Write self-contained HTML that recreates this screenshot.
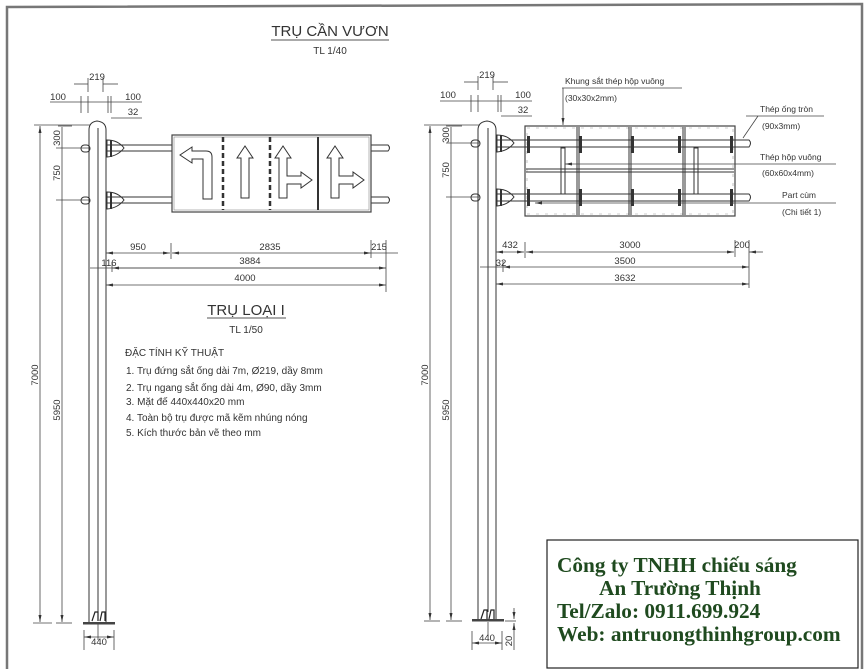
<!DOCTYPE html>
<html><head><meta charset="utf-8"><style>
html,body{margin:0;padding:0;background:#fff}
svg{display:block}
text{font-family:"Liberation Sans",sans-serif;fill:#333}
.d{stroke:#444;stroke-width:0.8;fill:none}
.p{stroke:#333;stroke-width:1;fill:none}
.cmp{font-family:"Liberation Serif",serif;font-weight:bold;fill:#1f4a1f;font-size:21.3px}
</style></head><body>
<svg width="866" height="669" viewBox="0 0 866 669" xmlns="http://www.w3.org/2000/svg">
<defs>
<marker id="a" markerWidth="8" markerHeight="6" refX="7" refY="3" orient="auto-start-reverse" markerUnits="userSpaceOnUse"><path d="M0,1.5 L7,3 L0,4.5z" fill="#333"/></marker>
</defs>
<rect width="866" height="669" fill="#fff"/>
<path d="M7,669 L7,7 L862,4 L862,669" stroke="#777" stroke-width="2.5" fill="none"/>

<text x="330" y="36" font-size="15" text-anchor="middle">TRỤ CẦN VƯƠN</text>
<line x1="271" y1="40" x2="389" y2="40" stroke="#555" stroke-width="1"/>
<text x="330" y="54" font-size="10" text-anchor="middle">TL 1/40</text>

<g>
<path class="p" d="M89,612 L89,130 Q89,122 97,121 Q106,122 106,130 L106,612"/>
<line class="p" x1="98" y1="128" x2="98" y2="612" stroke-width="0.7"/>
<line class="d" x1="88" y1="84" x2="74" y2="84"/><line class="d" x1="103" y1="84" x2="118" y2="84"/>
<line class="d" x1="88" y1="78" x2="88" y2="92"/><line class="d" x1="103" y1="78" x2="103" y2="92"/>
<text x="97" y="80" font-size="9.5" text-anchor="middle">219</text>
<line class="d" x1="50" y1="102" x2="142" y2="102"/>
<line class="d" x1="81" y1="96" x2="81" y2="113"/><line class="d" x1="88" y1="96" x2="88" y2="113"/>
<line class="d" x1="108" y1="96" x2="108" y2="113"/><line class="d" x1="111" y1="96" x2="111" y2="113"/>
<text x="58" y="100" font-size="9.5" text-anchor="middle">100</text>
<text x="133" y="100" font-size="9.5" text-anchor="middle">100</text>
<line class="d" x1="111" y1="118" x2="142" y2="118"/>
<text x="133" y="115" font-size="9.5" text-anchor="middle">32</text>
<rect x="81" y="145" width="9" height="7" rx="3.5" class="p"/>
<rect x="81" y="197" width="9" height="7" rx="3.5" class="p"/>
<path class="p" d="M107,140 Q118,140 124,148 Q118,156 107,157z"/>
<path class="p" d="M107,192 Q118,192 124,200 Q118,208 107,209z"/>
<line x1="111" y1="140" x2="111" y2="157" stroke="#333" stroke-width="2"/>
<line x1="111" y1="192" x2="111" y2="209" stroke="#333" stroke-width="2"/>
<path class="p" d="M106,145 L388,145 Q391,148 388,151 L106,151"/>
<path class="p" d="M106,197 L388,197 Q391,200 388,203 L106,203"/>
<rect x="172" y="135" width="199" height="77" fill="#fff" stroke="#444" stroke-width="1.2"/>
<rect x="174" y="137" width="195" height="73" fill="none" stroke="#888" stroke-width="0.6"/>
<line x1="223" y1="137" x2="223" y2="210" stroke="#333" stroke-width="2.5" stroke-dasharray="5,3"/>
<line x1="270" y1="137" x2="270" y2="210" stroke="#333" stroke-width="2.5" stroke-dasharray="5,3"/>
<line x1="318" y1="137" x2="318" y2="210" stroke="#333" stroke-width="2"/>
<path class="p" d="M212,199 L212,157 Q212,151 206,151 L192,151 L192,147 L180,155 L192,163 L192,159 L203,159 L203,199z" stroke-width="0.9"/>
<path class="p" d="M241,198 L241,158 L237,158 L245,146 L253,158 L249,158 L249,198z" stroke-width="0.9"/>
<path class="p" d="M279,198 L279,158 L275,158 L283,146 L291,158 L287,158 L287,176 L301,176 L301,172 L312,180 L301,188 L301,184 L287,184 L287,198z" stroke-width="0.9"/>
<path class="p" d="M331,198 L331,158 L327,158 L335,146 L343,158 L339,158 L339,176 L353,176 L353,172 L364,180 L353,188 L353,184 L339,184 L339,198z" stroke-width="0.9"/>
<line class="d" x1="106" y1="253" x2="170" y2="253" marker-start="url(#a)" marker-end="url(#a)"/>
<line class="d" x1="172" y1="253" x2="371" y2="253" marker-start="url(#a)" marker-end="url(#a)"/>
<line class="d" x1="371" y1="253" x2="398" y2="253"/>
<line class="d" x1="171" y1="243" x2="171" y2="259"/>
<line class="d" x1="371" y1="240" x2="371" y2="258"/>
<line class="d" x1="386" y1="240" x2="386" y2="292"/>
<text x="138" y="250" font-size="9.5" text-anchor="middle">950</text>
<text x="270" y="250" font-size="9.5" text-anchor="middle">2835</text>
<text x="379" y="250" font-size="9.5" text-anchor="middle">215</text>
<line class="d" x1="90" y1="268" x2="386" y2="268" marker-end="url(#a)"/>
<line class="d" x1="112" y1="268" x2="386" y2="268" marker-start="url(#a)"/>
<line class="d" x1="112" y1="262" x2="112" y2="272"/>
<text x="109" y="266" font-size="9.5" text-anchor="middle">116</text>
<text x="250" y="264" font-size="9.5" text-anchor="middle">3884</text>
<line class="d" x1="106" y1="285" x2="386" y2="285" marker-start="url(#a)" marker-end="url(#a)"/>
<text x="245" y="281" font-size="9.5" text-anchor="middle">4000</text>
<line class="d" x1="40" y1="126" x2="40" y2="622" marker-start="url(#a)" marker-end="url(#a)"/>
<line class="d" x1="34" y1="125" x2="90" y2="125"/><line class="d" x1="33" y1="623" x2="52" y2="623"/>
<line class="d" x1="62" y1="127" x2="62" y2="622" marker-end="url(#a)"/>
<line class="d" x1="58" y1="126" x2="72" y2="126"/><line class="d" x1="56" y1="623" x2="72" y2="623"/>
<line class="d" x1="56" y1="148" x2="90" y2="148"/><line class="d" x1="56" y1="200" x2="90" y2="200"/>
<text transform="translate(38,375) rotate(-90)" font-size="9.5" text-anchor="middle">7000</text>
<text transform="translate(60,410) rotate(-90)" font-size="9.5" text-anchor="middle">5950</text>
<text transform="translate(60,138) rotate(-90)" font-size="9.5" text-anchor="middle">300</text>
<text transform="translate(60,173) rotate(-90)" font-size="9.5" text-anchor="middle">750</text>
<path class="p" d="M89,612 L89,623 M106,612 L106,623"/>
<path d="M92,621 L95,612 L98,612 L98,621 M100,621 L102,612 L105,612 L105,621" stroke="#222" stroke-width="1.2" fill="none"/>
<rect x="83" y="622" width="32" height="2.5" fill="#444"/>
<line class="d" x1="98" y1="624" x2="98" y2="640"/>
<line class="d" x1="84" y1="637" x2="114" y2="637" marker-start="url(#a)" marker-end="url(#a)"/>
<line class="d" x1="84" y1="630" x2="84" y2="650"/><line class="d" x1="114" y1="630" x2="114" y2="650"/>
<text x="99" y="645" font-size="9.5" text-anchor="middle">440</text>
</g>

<text x="246" y="315" font-size="15" text-anchor="middle">TRỤ LOẠI I</text>
<line x1="207" y1="318" x2="286" y2="318" stroke="#555" stroke-width="1"/>
<text x="246" y="333" font-size="10" text-anchor="middle">TL 1/50</text>
<text x="125" y="356" font-size="10">ĐẶC TÍNH KỸ THUẬT</text>
<text x="126" y="374" font-size="10">1. Trụ đứng sắt ống dài 7m, Ø219, dầy 8mm</text>
<text x="126" y="391" font-size="10">2. Trụ ngang sắt ống dài 4m, Ø90, dầy 3mm</text>
<text x="126" y="405" font-size="10">3. Mặt đế 440x440x20 mm</text>
<text x="126" y="421" font-size="10">4. Toàn bộ trụ được mã kẽm nhúng nóng</text>
<text x="126" y="436" font-size="10">5. Kích thước bản vẽ theo mm</text>

<g>
<path class="p" d="M478,612 L478,130 Q478,122 487,121 Q496,122 496,130 L496,612"/>
<line class="p" x1="488" y1="128" x2="488" y2="612" stroke-width="0.7"/>
<line class="d" x1="478" y1="82" x2="464" y2="82"/><line class="d" x1="493" y1="82" x2="508" y2="82"/>
<line class="d" x1="478" y1="76" x2="478" y2="90"/><line class="d" x1="493" y1="76" x2="493" y2="90"/>
<text x="487" y="78" font-size="9.5" text-anchor="middle">219</text>
<line class="d" x1="440" y1="101" x2="532" y2="101"/>
<line class="d" x1="471" y1="95" x2="471" y2="112"/><line class="d" x1="478" y1="95" x2="478" y2="112"/>
<line class="d" x1="498" y1="95" x2="498" y2="112"/><line class="d" x1="501" y1="95" x2="501" y2="112"/>
<text x="448" y="98" font-size="9.5" text-anchor="middle">100</text>
<text x="523" y="98" font-size="9.5" text-anchor="middle">100</text>
<line class="d" x1="501" y1="116" x2="532" y2="116"/>
<text x="523" y="113" font-size="9.5" text-anchor="middle">32</text>
<rect x="471" y="140" width="9" height="7" rx="3.5" class="p"/>
<rect x="471" y="194" width="9" height="7" rx="3.5" class="p"/>
<path class="p" d="M497,135 Q508,135 514,143 Q508,151 497,152z"/>
<path class="p" d="M497,189 Q508,189 514,197 Q508,205 497,206z"/>
<line x1="501" y1="135" x2="501" y2="152" stroke="#333" stroke-width="2"/>
<line x1="501" y1="189" x2="501" y2="206" stroke="#333" stroke-width="2"/>
<rect x="525" y="126" width="210" height="90" fill="none" stroke="#444" stroke-width="1.2"/>
<rect x="527" y="128" width="206" height="86" fill="none" stroke="#999" stroke-width="0.6" stroke-dasharray="3,6"/>
<line class="p" x1="577" y1="127" x2="577" y2="215"/><line class="p" x1="579" y1="127" x2="579" y2="215"/>
<line class="p" x1="629" y1="127" x2="629" y2="215"/><line class="p" x1="631" y1="127" x2="631" y2="215"/>
<line class="p" x1="683" y1="127" x2="683" y2="215"/><line class="p" x1="685" y1="127" x2="685" y2="215"/>
<line class="p" x1="526" y1="169" x2="734" y2="169"/><line class="p" x1="526" y1="172" x2="734" y2="172"/>
<rect x="561" y="148" width="4" height="46" class="p"/>
<rect x="694" y="148" width="4" height="46" class="p"/>
<path class="p" d="M497,140 L749,140 Q752,143 749,147 L497,147"/>
<path class="p" d="M497,194 L749,194 Q752,197 749,201 L497,201"/>
<g fill="#333">
<rect x="527" y="136" width="3" height="17"/><rect x="579" y="136" width="3" height="17"/><rect x="631" y="136" width="3" height="17"/><rect x="678" y="136" width="3" height="17"/><rect x="730" y="136" width="3" height="17"/>
<rect x="527" y="189" width="3" height="17"/><rect x="579" y="189" width="3" height="17"/><rect x="631" y="189" width="3" height="17"/><rect x="678" y="189" width="3" height="17"/><rect x="730" y="189" width="3" height="17"/>
</g>
<text x="565" y="84" font-size="8.5">Khung sắt thép hộp vuông</text>
<line class="d" x1="562" y1="88" x2="682" y2="88"/>
<line class="d" x1="563" y1="88" x2="563" y2="125" marker-end="url(#a)"/>
<text x="565" y="101" font-size="8.5">(30x30x2mm)</text>
<text x="760" y="112" font-size="8.5">Thép ống tròn</text>
<line class="d" x1="746" y1="116" x2="824" y2="116"/>
<line class="d" x1="758" y1="116" x2="743" y2="138"/>
<text x="762" y="129" font-size="8.5">(90x3mm)</text>
<text x="760" y="160" font-size="8.5">Thép hộp vuông</text>
<line class="d" x1="565" y1="164" x2="836" y2="164" marker-start="url(#a)"/>
<text x="762" y="176" font-size="8.5">(60x60x4mm)</text>
<text x="782" y="198" font-size="8.5">Part cùm</text>
<line class="d" x1="535" y1="203" x2="836" y2="203" marker-start="url(#a)"/>
<text x="782" y="215" font-size="8.5">(Chi tiết 1)</text>
<line class="d" x1="496" y1="252" x2="524" y2="252" marker-start="url(#a)" marker-end="url(#a)"/>
<line class="d" x1="526" y1="252" x2="734" y2="252" marker-start="url(#a)" marker-end="url(#a)"/>
<line class="d" x1="749" y1="252" x2="763" y2="252" marker-start="url(#a)"/>
<line class="d" x1="525" y1="242" x2="525" y2="258"/>
<line class="d" x1="735" y1="240" x2="735" y2="257"/>
<line class="d" x1="749" y1="240" x2="749" y2="288"/>
<text x="510" y="248" font-size="9.5" text-anchor="middle">432</text>
<text x="630" y="248" font-size="9.5" text-anchor="middle">3000</text>
<text x="742" y="248" font-size="9.5" text-anchor="middle">200</text>
<line class="d" x1="480" y1="267" x2="503" y2="267"/>
<line class="d" x1="503" y1="267" x2="749" y2="267" marker-start="url(#a)" marker-end="url(#a)"/>
<line class="d" x1="503" y1="261" x2="503" y2="272"/>
<text x="501" y="266" font-size="9.5" text-anchor="middle">32</text>
<text x="625" y="264" font-size="9.5" text-anchor="middle">3500</text>
<line class="d" x1="496" y1="284" x2="749" y2="284" marker-start="url(#a)" marker-end="url(#a)"/>
<text x="625" y="281" font-size="9.5" text-anchor="middle">3632</text>
<line class="d" x1="430" y1="126" x2="430" y2="620" marker-start="url(#a)" marker-end="url(#a)"/>
<line class="d" x1="424" y1="125" x2="480" y2="125"/><line class="d" x1="424" y1="621" x2="440" y2="621"/>
<line class="d" x1="451" y1="127" x2="451" y2="620" marker-end="url(#a)"/>
<line class="d" x1="446" y1="126" x2="462" y2="126"/><line class="d" x1="446" y1="621" x2="462" y2="621"/>
<line class="d" x1="446" y1="143" x2="480" y2="143"/><line class="d" x1="446" y1="197" x2="480" y2="197"/>
<text transform="translate(428,375) rotate(-90)" font-size="9.5" text-anchor="middle">7000</text>
<text transform="translate(449,410) rotate(-90)" font-size="9.5" text-anchor="middle">5950</text>
<text transform="translate(449,135) rotate(-90)" font-size="9.5" text-anchor="middle">300</text>
<text transform="translate(449,170) rotate(-90)" font-size="9.5" text-anchor="middle">750</text>
<path class="p" d="M478,612 L478,621 M496,612 L496,621"/>
<path d="M481,619 L484,610 L487,610 L487,619 M489,619 L491,610 L494,610 L494,619" stroke="#222" stroke-width="1.2" fill="none"/>
<rect x="472" y="619" width="32" height="2.5" fill="#444"/>
<line class="d" x1="488" y1="622" x2="488" y2="636"/>
<line class="d" x1="472" y1="643" x2="502" y2="643" marker-start="url(#a)" marker-end="url(#a)"/>
<line class="d" x1="472" y1="631" x2="472" y2="650"/><line class="d" x1="502" y1="631" x2="502" y2="650"/>
<text x="487" y="641" font-size="9.5" text-anchor="middle">440</text>
<line class="d" x1="505" y1="621" x2="516" y2="621"/>
<line class="d" x1="514" y1="608" x2="514" y2="619" marker-end="url(#a)"/>
<line class="d" x1="514" y1="650" x2="514" y2="623" marker-end="url(#a)"/>
<text transform="translate(512,641) rotate(-90)" font-size="9.5" text-anchor="middle">20</text>
</g>

<rect x="547" y="540" width="311" height="128" fill="#fff" stroke="#222" stroke-width="1.2"/>
<text class="cmp" x="557" y="572">Công ty TNHH chiếu sáng</text>
<text class="cmp" x="599" y="595">An Trường Thịnh</text>
<text class="cmp" x="557" y="618">Tel/Zalo: 0911.699.924</text>
<text class="cmp" x="557" y="641">Web: antruongthinhgroup.com</text>
</svg>
</body></html>
